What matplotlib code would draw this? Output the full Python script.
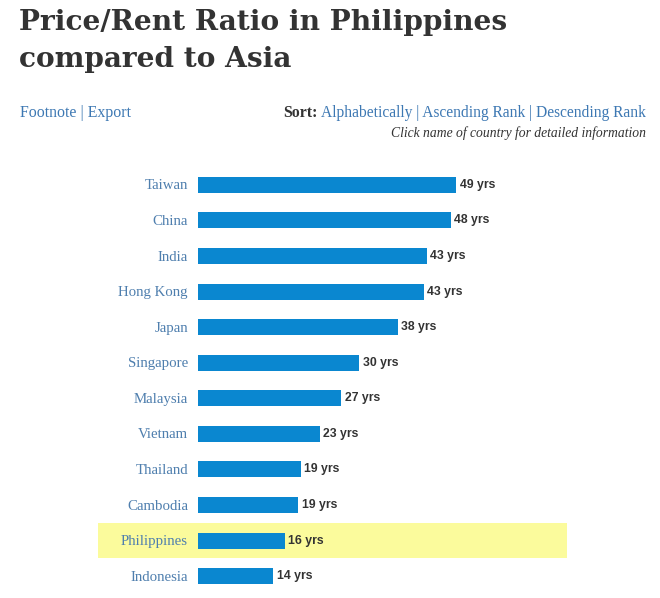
import matplotlib
matplotlib.use("Agg")
import matplotlib.pyplot as plt
from matplotlib.patches import Rectangle
from matplotlib import transforms

countries = ["Taiwan", "China", "India", "Hong Kong", "Japan", "Singapore",
             "Malaysia", "Vietnam", "Thailand", "Cambodia", "Philippines", "Indonesia"]
values = [48.7, 47.7, 43.2, 42.6, 37.7, 30.4, 27.0, 23.0, 19.4, 18.9, 16.4, 14.2]
value_labels = ["49 yrs", "48 yrs", "43 yrs", "43 yrs", "38 yrs", "30 yrs",
                "27 yrs", "23 yrs", "19 yrs", "19 yrs", "16 yrs", "14 yrs"]
highlight = "Philippines"

W, H = 660, 598
fig = plt.figure(figsize=(W / 100, H / 100), dpi=100)
fig.patch.set_facecolor("white")

BAR = "#0a87d0"
LINK = "#3d78b3"
LABEL = "#4f7fae"
DARK = "#333333"
SERIF = ["Liberation Serif", "DejaVu Serif"]
TSERIF = ["DejaVu Serif"]
SANS = ["Liberation Sans", "DejaVu Sans"]

def fx(px):
    return px / W

def fy(py):
    return 1 - py / H

# axes for bars: x 198..660 px, y 167..594 px
left, right = 198, 660
top, bottom = 167, 594
ax = fig.add_axes([fx(left), fy(bottom), fx(right - left), (bottom - top) / H])
ax.set_xlim(0, (right - left) / 5.3)
ax.set_ylim(len(countries) - 0.5, -0.5)
ax.axis("off")

ypos = list(range(len(countries)))
ax.barh(ypos, values, height=0.45, color=BAR, zorder=3)

blend = transforms.blended_transform_factory(fig.transFigure, ax.transData)
for y, c, v, lab in zip(ypos, countries, values, value_labels):
    if c == highlight:
        ax.add_patch(Rectangle((fx(98), y - 0.5), fx(567) - fx(98), 1.0,
                               transform=blend, facecolor="#fbfb9c",
                               edgecolor="none", zorder=1, clip_on=False))
    ax.text(fx(188), y + 0.03, c, transform=blend, ha="right", va="center",
            fontsize=10.7, family=SERIF, color=LABEL, zorder=4)
    ax.annotate(lab, (v, y), xytext=(2.5, 0), textcoords="offset points",
                ha="left", va="center", fontsize=8.8, fontweight="bold",
                family=SANS, color=DARK, zorder=4)

# Title
fig.text(fx(19), fy(30), "Price/Rent Ratio in Philippines", ha="left",
         va="baseline", fontsize=20.2, fontweight="bold", family=TSERIF, color=DARK)
fig.text(fx(19), fy(67), "compared to Asia", ha="left",
         va="baseline", fontsize=20.2, fontweight="bold", family=TSERIF, color=DARK)

# Links row
fig.text(fx(20), fy(117), "Footnote | Export", ha="left", va="baseline",
         fontsize=11.4, family=SERIF, color=LINK)
sort_links = fig.text(fx(646), fy(117), "Alphabetically | Ascending Rank | Descending Rank",
                      ha="right", va="baseline", fontsize=11.2, family=SERIF, color=LINK)
fig.canvas.draw()
bb = sort_links.get_window_extent(fig.canvas.get_renderer())
fig.text(bb.x0 / W - fx(4), fy(117), "Sort:", ha="right", va="baseline",
         fontsize=11.4, fontweight="bold", family=SERIF, color=DARK)
fig.text(fx(646), fy(137), "Click name of country for detailed information",
         ha="right", va="baseline", fontsize=9.8, style="italic", family=SERIF,
         color=DARK)

fig.savefig("out.png", dpi=100, facecolor="white")
